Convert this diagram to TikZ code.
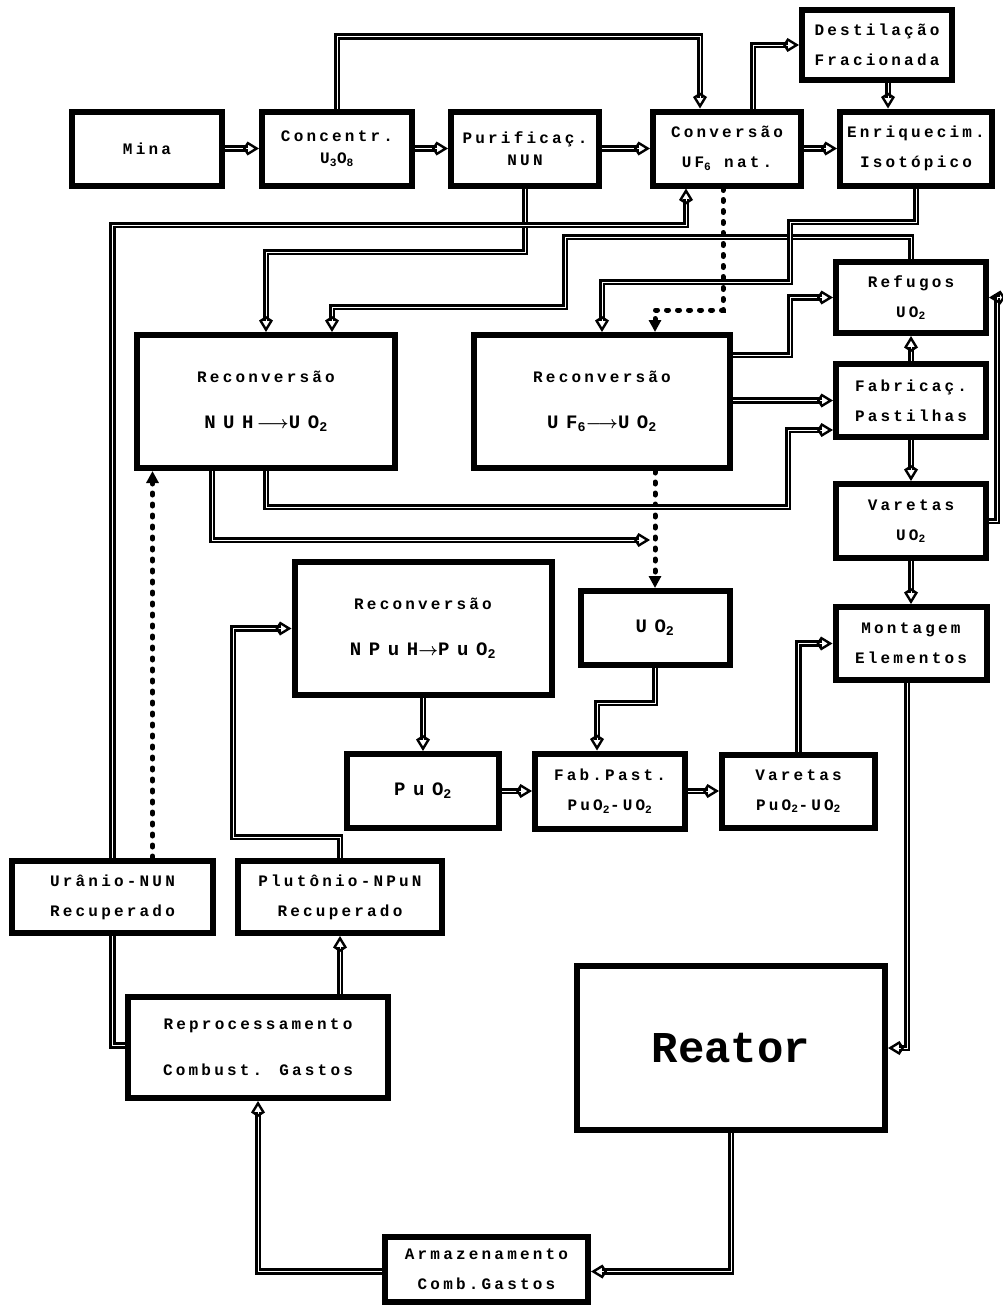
\documentclass[tikz,border=0pt]{standalone}
\usepackage{fontspec}
\usetikzlibrary{arrows.meta}

\newfontfamily\boxfont[LetterSpace=20]{Liberation Mono}
\newfontfamily\bigfont[LetterSpace=40]{Liberation Mono}
\newfontfamily\reatorfont{Liberation Mono}

\begin{document}
\begin{tikzpicture}[x=1pt, y=1pt,
    box/.style 2 args={draw, line width=6pt, minimum width=#1pt, minimum height=#2pt,
        inner sep=0pt, align=center, font=\boxfont\bfseries\fontsize{16}{30}\selectfont},
    flowline/.style={double=white, double distance=0.9pt, line width=2.6pt},
    flow/.style={flowline, -{Kite[open, length=16pt, width=14pt, inset=4.5pt, line width=2.4pt]}},
    dotflow/.style={line width=5pt, line cap=round, dash pattern=on 2pt off 9pt,
        -{Triangle[length=12pt, width=12pt]}}]

    % Fix the page size
    \useasboundingbox (0,0) rectangle (1002,-1306);

    % Top row of the cycle
    \node[box={150}{74}] (mina) at (147,-148.5) {Mina};
    \node[box={150}{74}] (concentr) at (337,-148.5) {Concentr.\\[-8pt]U\textsubscript{3}O\textsubscript{8}};
    \node[box={148}{74}] (purif) at (525,-148.5) {Purificaç.\\[-8pt]NUN};
    \node[box={148}{74}] (conversao) at (727,-148.5) {Conversão\\UF\textsubscript{6} nat.};
    \node[box={152}{74}] (enriq) at (916,-148.5) {Enriquecim.\\Isotópico};
    \node[box={150}{70}] (destil) at (877,-45) {Destilação\\Fracionada};

    % Reconversion boxes
    \node[box={258}{133}] (reconvA) at (266,-401.5) {Reconversão\\[16pt]{\bigfont\fontsize{19}{30}\selectfont NUH\,\boldmath$\longrightarrow$UO\textsubscript{2}}};
    \node[box={256}{133}] (reconvB) at (602,-401.5) {Reconversão\\[16pt]{\bigfont\fontsize{19}{30}\selectfont UF\textsubscript{6}\boldmath$\longrightarrow$UO\textsubscript{2}}};
    \node[box={257}{133}] (reconvC) at (423,-628.5) {Reconversão\\[16pt]{\bigfont\fontsize{19}{30}\selectfont NPuH\boldmath$\rightarrow$PuO\textsubscript{2}}};

    % Right column
    \node[box={150}{71}] (refugos) at (911,-297.5) {Refugos\\UO\textsubscript{2}};
    \node[box={150}{73}] (fabric) at (911,-400.5) {Fabricaç.\\Pastilhas};
    \node[box={150}{74}] (varUO) at (911,-521) {Varetas\\UO\textsubscript{2}};
    \node[box={151}{73}] (montagem) at (911,-643.5) {Montagem\\Elementos};

    % Oxide boxes
    \node[box={149}{74}] (uo2) at (655,-628) {\bigfont\fontsize{19}{30}\selectfont UO\textsubscript{2}};
    \node[box={152}{74}] (puo2) at (423,-791) {\bigfont\fontsize{19}{30}\selectfont PuO\textsubscript{2}};
    \node[box={150}{75}] (fabpast) at (610,-791) {Fab.Past.\\PuO\textsubscript{2}-UO\textsubscript{2}};
    \node[box={153}{73}] (varPu) at (798.5,-791) {Varetas\\PuO\textsubscript{2}-UO\textsubscript{2}};

    % Recovered material and back end
    \node[box={201}{72}] (uranio) at (112.5,-897) {Urânio-NUN\\Recuperado};
    \node[box={204}{72}] (plutonio) at (340,-897) {Plutônio-NPuN\\Recuperado};
    \node[box={260}{101}] (reproc) at (258,-1047.5) {Reprocessamento\\[16pt]Combust. Gastos};
    \node[box={308}{164}] (reator) at (731,-1048) {\reatorfont\fontsize{44}{48}\selectfont Reator};
    \node[box={203}{65}] (armaz) at (486.5,-1269) {Armazenamento\\Comb.Gastos};

    % Helper points
    \coordinate (convIn) at ([xshift=-41pt]conversao.south);
    \coordinate (convTop) at ([xshift=-27pt]conversao.north);
    \coordinate (convOut) at ([xshift=26pt]conversao.north);
    \coordinate (destOut) at ([xshift=11pt]destil.south);
    \coordinate (dotTop) at ([xshift=-4pt]conversao.south);
    \coordinate (scrapIn) at ([xshift=66pt]reconvA.north);
    \coordinate (nuhOut) at ([xshift=-54pt]reconvA.south);
    \coordinate (uoMerge) at (650,-540);
    \coordinate (fpIn) at ([xshift=-13pt]fabpast.north);
    \coordinate (uDot) at ([xshift=40pt]uranio.north);

    % Main line of the top row
    \draw[flow] (mina) -- (concentr);
    \draw[flow] (concentr) -- (purif);
    \draw[flow] (purif) -- (conversao);
    \draw[flow] (conversao) -- (enriq);
    \draw[flow] (concentr.north) -- ++(0,72) -| (convTop);
    \draw[flow] (convOut) |- (destil.west);
    \draw[flow] (destOut) -- (destOut |- enriq.north);

    % Feeds of the reconversion
    \draw[flow] (purif.south) |- (reconvA.north |- 0,-252) -- (reconvA.north);
    \draw[flow] (uranio.north) |- (convIn |- 0,-225) -- (convIn);
    \draw[flow] (refugos.north) |- (565,-237) |- (scrapIn |- 0,-307) -- (scrapIn);
    \draw[flow] (enriq.south) |- (790,-222) |- (reconvB.north |- 0,-282) -- (reconvB.north);
    \draw[dotflow] (dotTop) |- (uo2.north |- 0,-310) -- (uo2.north |- reconvB.north);
    \draw[dotflow] (uo2.north |- reconvB.south) -- (uo2.north);

    % Outputs of the reconversion
    \draw[flow] ([yshift=46.5pt]reconvB.east) -- (790,-355) |- (refugos.west);
    \draw[flow] (reconvB.east |- fabric.west) -- (fabric.west);
    \draw[flow] (reconvA.south) |- (788,-507) |- ([yshift=-29.5pt]fabric.west);
    \draw[flow] (nuhOut) |- (uoMerge);

    % Pellets, rods and assemblies
    \draw[flow] (fabric) -- (refugos);
    \draw[flow] (fabric) -- (varUO);
    \draw[flow] (varUO) -- (montagem);
    \draw[flow] (varUO.east) -- (997,-521) |- (refugos.east);
    \draw[flow] ([xshift=-4pt]montagem.south) |- (reator.east);

    % Mixed oxide line
    \draw[flow] (uo2.south) |- (fpIn |- 0,-703) -- (fpIn);
    \draw[flow] (reconvC) -- (puo2);
    \draw[flow] (puo2) -- (fabpast);
    \draw[flow] (fabpast) -- (varPu);
    \draw[flow] (varPu.north) |- (montagem.west);

    % Recovered uranium and plutonium
    \draw[flow] (plutonio.north) |- (233,-837) |- (reconvC.west);
    \draw[flow] (reproc.north -| plutonio.south) -- (plutonio.south);
    \draw[dotflow] (uDot) -- (uDot |- reconvA.south);
    \draw[flowline] ([yshift=2pt]reproc.west) -| (uranio.south);

    % Spent fuel
    \draw[flow] ([yshift=-2.5pt]armaz.west) -| (reproc.south);
    \draw[flow] (reator.south) |- ([yshift=-2.5pt]armaz.east);

\end{tikzpicture}
\end{document}
